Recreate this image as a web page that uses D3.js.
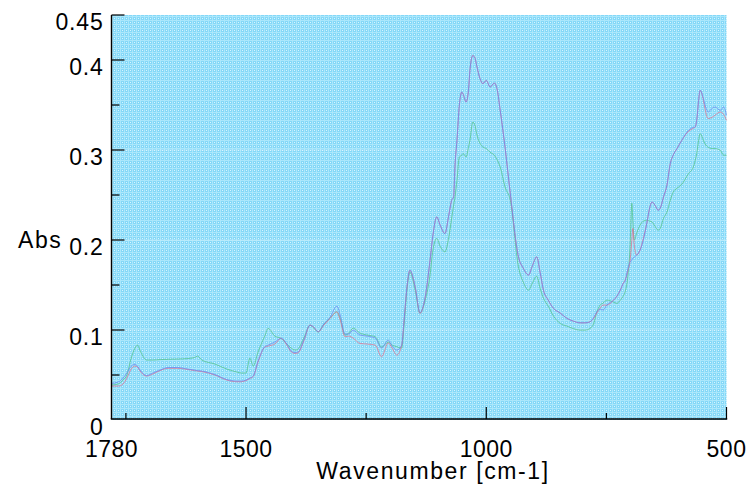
<!DOCTYPE html>
<html>
<head>
<meta charset="utf-8">
<script src="https://cdn.jsdelivr.net/npm/d3@7"></script>
<style>
  html, body { margin: 0; padding: 0; background: #ffffff; }
  svg { display: block; }
  text { font-family: "Liberation Sans", Arial, Helvetica, sans-serif; fill: #000; }
</style>
</head>
<body>
<svg id="chart" width="749" height="491"></svg>
<script>
// ---- data ----
const wavenumber = [1780,1766,1756,1748,1739,1731,1726,1719,1707,1694,1679,1662,1642,1621,1607,1601,1592,1565,1540,1519,1510,1500,1492,1485,1475,1461,1454,1440,1427,1415,1406,1398,1392,1379,1367,1359,1350,1338,1325,1311,1304,1294,1286,1277,1263,1248,1231,1218,1204,1196,1186,1176,1171,1165,1159,1148,1138,1127,1117,1111,1103,1096,1086,1078,1072,1068,1065,1061,1056,1051,1048,1042,1037,1034,1028,1023,1020,1013,1007,1000,992,983,977,971,961,950,933,923,912,905,895,888,881,871,860,846,832,819,805,794,784,776,770,763,757,749,735,728,721,715,711,705,701,697,695,692,687,680,673,666,659,655,649,642,638,631,624,617,611,603,593,579,569,565,562,558,555,548,545,538,530,524,513,506,500];

const absRed = [.0377,.0377,.0400,.0466,.0566,.0599,.0588,.0533,.0488,.0511,.0549,.0574,.0574,.0561,.0549,.0544,.0538,.0500,.0444,.0425,.0425,.0438,.0461,.0483,.0644,.0810,.0821,.0844,.0907,.0832,.0758,.0740,.0744,.0888,.1054,.1032,.0980,.1054,.1129,.1202,.1110,.0925,.0932,.0910,.0851,.0844,.0832,.0703,.0855,.0799,.0721,.0832,.1110,.1480,.1665,.1480,.1184,.1369,.1776,.2053,.2257,.2165,.2072,.2276,.2442,.2479,.2831,.3108,.3497,.3644,.3619,.3533,.3663,.3885,.4052,.4015,.3940,.3793,.3737,.3774,.3700,.3744,.3663,.3441,.3034,.2516,.1813,.1687,.1610,.1698,.1813,.1643,.1443,.1332,.1240,.1188,.1129,.1099,.1080,.1080,.1091,.1132,.1188,.1243,.1277,.1277,.1332,.1376,.1443,.1517,.1554,.1665,.1754,.1998,.2128,.1943,.1832,.1887,.2020,.2183,.2375,.2423,.2387,.2331,.2353,.2479,.2608,.2849,.2942,.3016,.3108,.3208,.3241,.3256,.3330,.3552,.3663,.3552,.3463,.3349,.3363,.3386,.3422,.3397,.3330];

const absBlue = [.0407,.0422,.0466,.0522,.0599,.0618,.0599,.0544,.0494,.0522,.0555,.0583,.0583,.0566,.0555,.0549,.0544,.0505,.0450,.0433,.0433,.0444,.0466,.0488,.0655,.0814,.0832,.0866,.0910,.0844,.0766,.0749,.0755,.0899,.1054,.1032,.0980,.1066,.1143,.1265,.1166,.0955,.0955,.0999,.0944,.0932,.0910,.0799,.0888,.0821,.0777,.0832,.1110,.1480,.1665,.1480,.1193,.1369,.1776,.2053,.2257,.2165,.2072,.2276,.2442,.2479,.2831,.3108,.3497,.3644,.3619,.3533,.3663,.3885,.4046,.4015,.3940,.3793,.3737,.3774,.3700,.3744,.3663,.3441,.3034,.2516,.1813,.1687,.1610,.1698,.1813,.1643,.1443,.1332,.1240,.1188,.1129,.1099,.1080,.1080,.1091,.1143,.1202,.1232,.1221,.1277,.1332,.1376,.1443,.1517,.1543,.1687,.1754,.1776,.1798,.1809,.1832,.1887,.1998,.2183,.2375,.2423,.2387,.2331,.2353,.2479,.2608,.2849,.2942,.3016,.3108,.3219,.3252,.3256,.3330,.3552,.3663,.3571,.3508,.3422,.3463,.3478,.3441,.3478,.3386];

const absGreen = [.0389,.0400,.0444,.0500,.0688,.0799,.0832,.0755,.0666,.0666,.0671,.0674,.0677,.0683,.0694,.0710,.0666,.0622,.0566,.0533,.0522,.0522,.0688,.0599,.0755,.0932,.1018,.0932,.0907,.0844,.0799,.0777,.0788,.0921,.1054,.1021,.0977,.1066,.1132,.1202,.1132,.0944,.0966,.1021,.0966,.0944,.0925,.0810,.0866,.0832,.0814,.0799,.1054,.1443,.1643,.1443,.1188,.1332,.1610,.1887,.2017,.1931,.1868,.2031,.2242,.2387,.2479,.2664,.2923,.2942,.2960,.2923,.3030,.3108,.3311,.3263,.3182,.3075,.3034,.3016,.2975,.2942,.2886,.2812,.2590,.2442,.1702,.1532,.1443,.1510,.1598,.1465,.1354,.1265,.1154,.1073,.1043,.1016,.0999,.0999,.1018,.1077,.1199,.1277,.1299,.1332,.1310,.1295,.1332,.1376,.1424,.1610,.1887,.2409,.2220,.1998,.2076,.2165,.2209,.2220,.2209,.2201,.2153,.2109,.2128,.2242,.2309,.2442,.2531,.2575,.2620,.2738,.2812,.2886,.2960,.3108,.3182,.3108,.3071,.3030,.3016,.3016,.2997,.2942,.2942];

const yMajorTicks = [0, 0.1, 0.2, 0.3, 0.4, 0.45];
const yMinorTicks = [0.05, 0.15, 0.25, 0.35];
const yTickLabels = ["0", "0.1", "0.2", "0.3", "0.4", "0.45"];
const xMajorTicks = [1500, 1000, 500];
const xMinorTicks = [1750, 1250, 750];
const xLabelValues = [1780, 1500, 1000, 500];
const xTickLabels = ["1780", "1500", "1000", "500"];
const xTitle = "Wavenumber [cm-1]";
const yTitle = "Abs";

// ---- layout ----
const svg = d3.select("#chart");
const plotLeft = 111.5, plotRight = 726.5, plotTop = 15, plotBottom = 420;
const x = d3.scaleLinear().domain([1780, 500]).range([plotLeft, plotRight]);
const y = d3.scaleLinear().domain([0, 0.45]).range([plotBottom, plotTop]);

// background pattern
const defs = svg.append("defs");
const pat = defs.append("pattern").attr("id", "bg")
  .attr("width", 4).attr("height", 4).attr("patternUnits", "userSpaceOnUse");
pat.append("rect").attr("width", 4).attr("height", 4).attr("fill", "#84d8f8");
pat.append("rect").attr("width", 4).attr("height", 1).attr("fill", "#abe7fb");
pat.append("rect").attr("width", 1).attr("height", 4).attr("fill", "#abe7fb");
pat.append("rect").attr("x", 2).attr("y", 2).attr("width", 1).attr("height", 1).attr("fill", "#d8f5fe");

svg.append("rect")
  .attr("x", plotLeft).attr("y", plotTop)
  .attr("width", plotRight - plotLeft).attr("height", y(0) - plotTop)
  .attr("fill", "url(#bg)");

// faint horizontal bands at major values
svg.append("g").selectAll("line").data([0.1, 0.2, 0.3]).join("line")
  .attr("x1", plotLeft).attr("x2", plotRight)
  .attr("y1", d => y(d)).attr("y2", d => y(d))
  .attr("stroke", "#ffffff").attr("stroke-opacity", 0.35).attr("stroke-width", 1);

// series
const series = [
  { values: absGreen, color: "#52c28a" },
  { values: absRed, color: "#e2708e" },
  { values: absBlue, color: "#6c86ee" }
];
const line = d3.line()
  .x((d, i) => x(wavenumber[i]))
  .y(d => y(d))
  .curve(d3.curveMonotoneX);
svg.append("g").selectAll("path").data(series).join("path")
  .attr("d", s => line(s.values))
  .attr("fill", "none")
  .attr("stroke", s => s.color)
  .attr("stroke-width", 1)
  .attr("stroke-opacity", 0.75);

// axes
const axisG = svg.append("g").attr("stroke", "#000");
axisG.append("line").attr("x1", plotLeft).attr("x2", plotLeft).attr("y1", plotTop).attr("y2", y(0) - 1)
  .attr("stroke-width", 1.4);
axisG.append("line").attr("x1", plotLeft - 0.7).attr("x2", plotRight + 0.7).attr("y1", y(0) - 1).attr("y2", y(0) - 1)
  .attr("stroke-width", 1.4);

// y ticks (inward)
axisG.selectAll(".ymaj").data(yMajorTicks.filter(d => d > 0)).join("line")
  .attr("class", "ymaj")
  .attr("x1", plotLeft).attr("x2", plotLeft + 13)
  .attr("y1", d => y(d)).attr("y2", d => y(d)).attr("stroke-width", 1.2);
axisG.selectAll(".ymin").data(yMinorTicks).join("line")
  .attr("class", "ymin")
  .attr("x1", plotLeft).attr("x2", plotLeft + 8)
  .attr("y1", d => y(d)).attr("y2", d => y(d)).attr("stroke-width", 1.2);

// x ticks (inward, upward)
axisG.selectAll(".xmaj").data(xMajorTicks).join("line")
  .attr("class", "xmaj")
  .attr("x1", d => x(d)).attr("x2", d => x(d))
  .attr("y1", y(0) - 1).attr("y2", y(0) - 13).attr("stroke-width", 1.2);
axisG.selectAll(".xmin").data(xMinorTicks).join("line")
  .attr("class", "xmin")
  .attr("x1", d => x(d)).attr("x2", d => x(d))
  .attr("y1", y(0) - 1).attr("y2", y(0) - 7).attr("stroke-width", 1.2);

// labels
svg.append("g").selectAll("text").data(yMajorTicks).join("text")
  .attr("x", plotLeft - 8).attr("y", d => y(d) + 15)
  .attr("text-anchor", "end")
  .attr("font-size", 23)
  .attr("letter-spacing", 0.8)
  .text((d, i) => yTickLabels[i]);

svg.append("g").selectAll("text").data(xLabelValues).join("text")
  .attr("x", d => x(d)).attr("y", 457)
  .attr("text-anchor", "middle")
  .attr("font-size", 23)
  .attr("letter-spacing", 0.5)
  .text((d, i) => xTickLabels[i]);

svg.append("text").attr("x", 433).attr("y", 479)
  .attr("text-anchor", "middle").attr("font-size", 23)
  .attr("letter-spacing", 1.6)
  .text(xTitle);

svg.append("text").attr("x", 18).attr("y", 248)
  .attr("text-anchor", "start").attr("font-size", 23)
  .attr("letter-spacing", 1.6)
  .text(yTitle);
</script>
</body>
</html>
